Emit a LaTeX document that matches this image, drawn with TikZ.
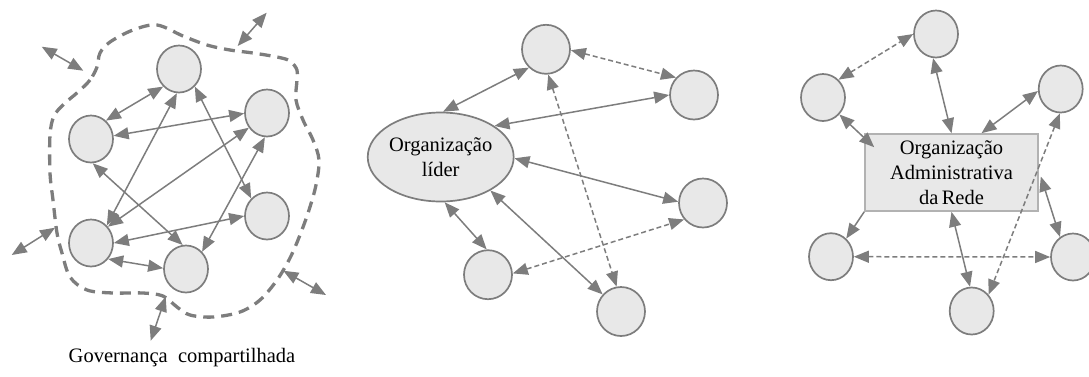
\documentclass[tikz,border=0pt]{standalone}
\usepackage{fontspec}
\setmainfont{Liberation Serif}
\usetikzlibrary{arrows.meta,shapes.geometric,calc}
\definecolor{lc}{RGB}{125,125,125}
\definecolor{fc}{RGB}{232,232,232}
\definecolor{rc}{RGB}{178,178,178}
\begin{document}
\begin{tikzpicture}[x=1pt,y=-1pt,
  nd/.style={ellipse,draw=lc,fill=fc,line width=1.7pt,inner sep=0pt,minimum width=44pt,minimum height=47pt},
  ndb/.style={nd,minimum width=48pt,minimum height=49pt},
  tipx/.tip={Triangle[length=15pt,width=12pt]},
  conn/.style={tipx-tipx,draw=lc,line width=1.5pt},
  oneway/.style={-tipx,draw=lc,line width=1.5pt},
  dconn/.style={conn,dash pattern=on 5pt off 3pt},
  blob/.style={draw=lc,line width=3.3pt,dash pattern=on 11pt off 7pt},
  txt/.style={font=\fontsize{20.5}{25}\selectfont,align=center}
]
\useasboundingbox (0,0) rectangle (1089,376);

% ---------- Panel 1: Governanca compartilhada ----------
\draw[blob] plot[smooth cycle,tension=0.55] coordinates{
 (97,67) (90,80) (78,92) (64,104) (54,116) (50,135) (50,173) (53,200) (57,233) (62,253)
 (70,277) (87,290) (113,293) (143,293) (163,296) (177,307) (190,315) (213,317) (240,312)
 (260,300) (277,280) (290,258) (300,235) (309,210) (316,185) (319,160) (313,140) (303,120)
 (296,100) (297,80) (297,70) (290,61) (277,57) (253,53) (230,50) (207,45) (183,36) (157,25)
 (133,30) (110,42) (100,53)};

\node[nd] (A) at (179,69) {};
\node[nd] (B) at (91,139) {};
\node[nd] (C) at (267,113) {};
\node[nd] (D) at (267,216) {};
\node[nd] (E) at (91,243) {};
\node[nd] (F) at (186,269) {};

\draw[conn] (A.228) -- (B.51);
\draw[conn] (C.181) -- (B.8);
\draw[conn] (A.265) -- (E.48);
\draw[conn] (C.219) -- (E.44);
\draw[conn] (B.274) -- (F.98);
\draw[conn] (A.312) -- (D.132);
\draw[conn] (C.265) -- (F.47);
\draw[conn] (D.180) -- (E.0);
\draw[conn] (E.317) -- (F.178);

\coordinate (x1a) at (41.7,46.7);  \coordinate (x1b) at (83.3,70.7);
\coordinate (x2a) at (266.7,12.7); \coordinate (x2b) at (237.7,46);
\coordinate (x3a) at (11.7,255);   \coordinate (x3b) at (55,227.7);
\coordinate (x4a) at (283.3,270.7);\coordinate (x4b) at (326,295);
\coordinate (x5a) at (165.7,296.7);\coordinate (x5b) at (150.7,340.7);
\draw[conn] (x1a) -- (x1b);
\draw[conn] (x2a) -- (x2b);
\draw[conn] (x3a) -- (x3b);
\draw[conn] (x4a) -- (x4b);
\draw[conn] (x5a) -- (x5b);

\node[txt,anchor=base] (cap) at (182,362) {Governança\ \ compartilhada};

% ---------- Panel 2: Organizacao lider ----------
\node[ellipse,draw=lc,fill=fc,line width=1.7pt,inner sep=0pt,minimum width=136pt,minimum height=89pt,txt] (L) at (440.7,157) {Organização\\líder};
\node[ndb] (P1) at (546,49.3) {};
\node[ndb] (P2) at (694,95) {};
\node[ndb] (P3) at (703,203) {};
\node[ndb] (P4) at (488,274.7) {};
\node[ndb] (P5) at (621,311.5) {};

\draw[conn] (L.87) -- (P1.227);
\draw[conn] (L.30) -- (P2.180);
\draw[conn] (L.-1) -- (P3.177);
\draw[conn] (L.275) -- (P4.93);
\draw[conn] (L.326) -- (P5.137);
\draw[dconn] (P1.358) -- (P2.136);
\draw[dconn] (P1.275) -- (P5.100);
\draw[dconn] (P4.3) -- (P3.221);

% ---------- Panel 3: Organizacao Administrativa da Rede ----------
\node[rectangle,draw=rc,fill=fc,line width=1.6pt,inner sep=0pt,minimum width=173pt,minimum height=77pt,txt] (R) at (951.5,172.5) {Organização\\Administrativa\\da\,Rede};
\node[nd] (Q1) at (936,34) {};
\node[nd] (Q2) at (823,97.5) {};
\node[nd] (Q3) at (1060.7,89) {};
\node[nd] (Q4) at (831,256.7) {};
\node[nd] (Q5) at (1073,257) {};
\node[nd] (Q6) at (971.7,311) {};

\draw[dconn] (Q2.49) -- (Q1.180);
\draw[conn] (Q1.263) -- (R.north);
\draw[conn] (Q2.314) -- ($(R.north west)+(10,14)$);
\draw[conn] (Q3.185) -- ($(R.north)+(30,0)$);
\draw[oneway] (R.south west) -- (Q4.50);
\draw[conn] ($(R.east)+(2,4)$) -- (Q5.123);
\draw[conn] (R.south) -- (Q6.94);
\draw[dconn] (Q4.0) -- (Q5.180);
\draw[dconn] (Q3.268) -- (Q6.44);
\end{tikzpicture}
\end{document}
